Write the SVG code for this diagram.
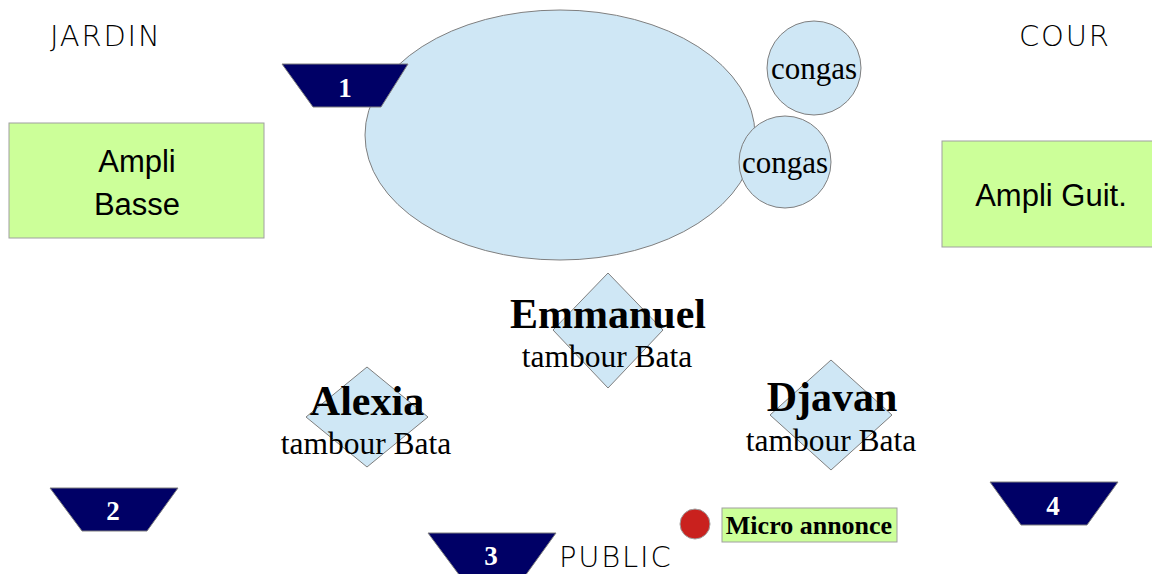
<svg xmlns="http://www.w3.org/2000/svg" width="1152" height="574" viewBox="0 0 1152 574">
<style>
.blue{fill:#cfe7f5;stroke:#7f7f7f;stroke-width:1}
.green{fill:#ccff99;stroke:#a0a0a0;stroke-width:1}
.mon{fill:#000066;stroke:#7f7f7f;stroke-width:1}
.monl{font-family:"Liberation Serif",serif;font-weight:bold;font-size:27px;fill:#fff;text-anchor:middle}
.side{font-family:"Liberation Sans",sans-serif;font-size:31px;fill:#000;text-anchor:middle}
.corner{font-family:"DejaVu Sans",sans-serif;font-weight:200;font-size:29px;letter-spacing:1.8px;fill:#000}
.name{font-family:"Liberation Serif",serif;font-weight:bold;font-size:42px;fill:#000;text-anchor:middle}
.sub{font-family:"Liberation Serif",serif;font-size:31.5px;fill:#000;text-anchor:middle}
.conga{font-family:"Liberation Serif",serif;font-size:31px;fill:#000;text-anchor:middle}
</style>
<rect width="1152" height="574" fill="#fff"/>
<g id="labels">
<text class="corner" x="50" y="46">JARDIN</text>
<text class="corner" x="1019" y="46">COUR</text>
<text class="corner" x="559" y="567">PUBLIC</text>
</g>
<g id="batterie"><ellipse class="blue" cx="560" cy="135" rx="195" ry="125"/></g>
<g id="congas1"><circle class="blue" cx="814" cy="68" r="47"/><text class="conga" x="814" y="79">congas</text></g>
<g id="congas2"><circle class="blue" cx="785" cy="162" r="46"/><text class="conga" x="785" y="173">congas</text></g>
<g id="monitor1"><polygon class="mon" points="282,64 408,64 381,107 313,107"/><text class="monl" x="345" y="97">1</text></g>
<g id="monitor2"><polygon class="mon" points="50,488 178,488 147,531 82,531"/><text class="monl" x="113" y="520">2</text></g>
<g id="monitor3"><polygon class="mon" points="428,533 556,533 525,576 460,576"/><text class="monl" x="491" y="565">3</text></g>
<g id="monitor4"><polygon class="mon" points="990,482 1118,482 1087,525 1021,525"/><text class="monl" x="1053" y="515">4</text></g>
<g id="ampliBasse"><rect class="green" x="9" y="123" width="255" height="115"/><text class="side" x="137" y="172">Ampli</text><text class="side" x="137" y="215">Basse</text></g>
<g id="ampliGuit"><rect class="green" x="942" y="141" width="215" height="106"/><text class="side" x="1051" y="206">Ampli Guit.</text></g>
<g id="emmanuel"><polygon class="blue" points="608,273 663,330 608,388 553,330"/><text class="name" x="608" y="328">Emmanuel</text><text class="sub" x="607" y="367">tambour Bata</text></g>
<g id="alexia"><polygon class="blue" points="367,367 428,417 367,467 306,417"/><text class="name" x="367" y="415">Alexia</text><text class="sub" x="366" y="454">tambour Bata</text></g>
<g id="djavan"><polygon class="blue" points="831,360 892,415 831,470 770,415"/><text class="name" x="832" y="411">Djavan</text><text class="sub" x="831" y="451">tambour Bata</text></g>
<g id="micro"><circle cx="695" cy="524" r="15" fill="#c9211e" stroke="#a0a0a0" stroke-width="1"/><rect class="green" x="722" y="508" width="175" height="34"/><text x="809" y="534" font-family="Liberation Serif,serif" font-weight="bold" font-size="26" text-anchor="middle">Micro annonce</text></g>
<g id="connectors"/>
</svg>
